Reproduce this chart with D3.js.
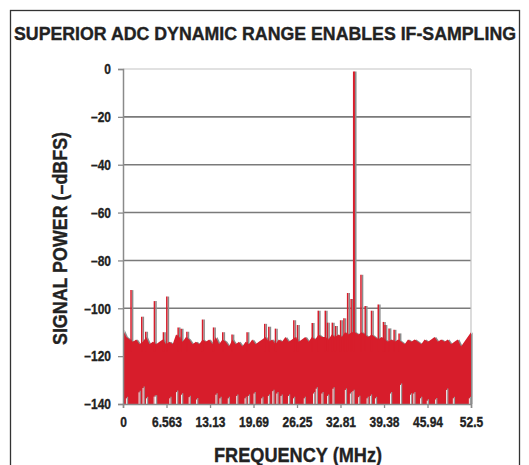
<!DOCTYPE html>
<html>
<head>
<meta charset="utf-8">
<script src="https://cdn.jsdelivr.net/npm/d3@7"></script>
<style>
  body { margin: 0; background: #fff; }
  svg text { font-family: 'Liberation Sans', Arial, sans-serif; font-weight: bold; fill: #222; stroke: #222; stroke-width: 0.35px; }
</style>
</head>
<body>
<script>
// tick labels as printed on the plot
const yTicks = [0, -20, -40, -60, -80, -100, -120, -140];
const xTicks = [0, 6.563, 13.13, 19.69, 26.25, 32.81, 39.38, 45.94, 52.5];
const xTickLabels = ['0', '6.563', '13.13', '19.69', '26.25', '32.81', '39.38', '45.94', '52.5'];

// noise floor top, one value every 0.5 MHz from 0 to 52.5 MHz (dBFS)
const noiseStep = 0.5;
const noiseTop = [
  -109, -112, -113, -114, -113, -115, -114, -112, -115, -114,
  -115, -114, -113, -115, -114, -115, -111, -112, -114, -112,
  -113, -115, -114, -115, -113, -114, -113, -115, -112, -115,
  -113, -114, -116, -113, -115, -114, -116, -114, -115, -113,
  -115, -114, -113, -112, -114, -113, -115, -113, -114, -112,
  -114, -113, -112, -114, -113, -112, -114, -112, -113, -111,
  -112, -112, -113, -111, -112, -111, -112, -110, -111, -110,
  -110, -111, -110, -111, -112, -111, -112, -113, -112, -113,
  -114, -113, -114, -113, -114, -115, -113, -114, -113, -114,
  -115, -113, -114, -113, -112, -114, -113, -114, -113, -115,
  -114, -113, -116, -114, -112, -110
];

// spurs and fundamental: [MHz, dBFS]
const spurs = [
  [1.21, -92.4], [2.83, -103.5], [3.43, -109.8], [4.74, -97], [6.10, -110],
  [6.61, -95.1], [8.32, -108], [8.78, -108.5], [9.64, -109.8], [12.0, -104.7],
  [13.66, -108], [15.05, -110], [16.45, -111], [18.72, -110], [21.38, -106.5],
  [22.0, -107.7], [23.0, -108.5], [25.77, -105], [26.33, -107], [28.55, -106.2],
  [29.46, -101], [30.52, -101], [30.86, -106], [31.58, -106], [32.08, -107.4],
  [32.83, -105], [33.33, -104.2], [33.89, -93.6], [34.42, -96.1], [34.84, -1.0],
  [35.90, -86], [36.54, -99], [37.49, -101], [38.51, -98.4], [39.29, -105.7],
  [39.53, -107], [40.14, -108.4], [40.90, -109], [41.65, -110.5]
];

// deep dips of the trace near the bottom: [MHz, dBFS]
const dips = [
  [0.56, -137], [2.47, -134.5], [3.07, -132.7], [3.59, -137], [4.75, -136.3],
  [4.95, -136.3], [7.11, -137], [8.13, -134.4], [8.88, -135.5], [10.03, -136.5],
  [11.15, -137.5], [14.07, -135.5], [14.68, -137], [15.93, -137], [17.2, -136],
  [18.46, -137], [18.96, -136], [19.82, -135], [20.99, -137], [21.98, -136],
  [22.65, -134], [23.26, -135], [23.9, -136], [25.01, -136], [25.77, -137],
  [27.39, -137], [28.79, -135], [29.2, -133], [30.06, -135], [30.91, -136],
  [31.73, -133], [33.59, -133.5], [34.35, -135], [34.75, -134], [35.6, -136.5],
  [36.87, -137], [37.37, -136], [38.13, -137], [40.4, -135], [41.91, -131.4],
  [43.42, -135.5], [43.92, -135], [44.94, -137], [45.95, -138], [47.21, -137.5],
  [48.87, -133.5], [49.88, -137], [52.3, -137]
];

const width = 529, height = 465;
const margin = { top: 69, left: 123, right: 58, bottom: 61 };
const red = '#d71d2b';

const svg = d3.select('body').append('svg')
  .attr('width', width)
  .attr('height', height);

// squeeze text horizontally to mimic the condensed typeface
function narrow(sel, k) {
  sel.each(function () {
    const w = this.getComputedTextLength();
    d3.select(this)
      .attr('textLength', w * k)
      .attr('lengthAdjust', 'spacingAndGlyphs');
  });
}

// outer frame
svg.append('rect')
  .attr('x', 10.5).attr('y', 10.5)
  .attr('width', 509).attr('height', 480)
  .attr('fill', 'none')
  .attr('stroke', '#333')
  .attr('stroke-width', 1.3);

svg.append('text')
  .attr('x', 14).attr('y', 40)
  .attr('font-size', 18)
  .attr('textLength', 502)
  .attr('lengthAdjust', 'spacingAndGlyphs')
  .text('SUPERIOR ADC DYNAMIC RANGE ENABLES IF-SAMPLING');

const x = d3.scaleLinear().domain([0, 52.5]).range([margin.left, width - margin.right]);
const y = d3.scaleLinear().domain([0, -140]).range([margin.top, height - margin.bottom]);

// grid
svg.append('g')
  .selectAll('line')
  .data(yTicks.filter(d => d !== -140))
  .join('line')
  .attr('x1', x(0)).attr('x2', x(52.5))
  .attr('y1', d => y(d)).attr('y2', d => y(d))
  .attr('stroke', d => d === 0 ? '#c4c4c4' : '#7a7a7a')
  .attr('stroke-width', d => d === 0 ? 1.2 : 1.6);

svg.append('line')
  .attr('x1', x(52.5)).attr('x2', x(52.5))
  .attr('y1', y(0)).attr('y2', y(-140))
  .attr('stroke', '#c4c4c4')
  .attr('stroke-width', 1.2);

// data layers: grey copy shifted right makes the drop shadow
const noise = noiseTop.map((v, i) => [i * noiseStep, v]);
const area = d3.area()
  .x(d => x(d[0]))
  .y0(y(-140))
  .y1(d => y(d[1]));

function drawTrace(g, color) {
  g.append('path')
    .datum(noise)
    .attr('d', area)
    .attr('fill', color);
  g.selectAll('line.spur')
    .data(spurs)
    .join('line')
    .attr('class', 'spur')
    .attr('x1', d => x(d[0])).attr('x2', d => x(d[0]))
    .attr('y1', y(-118)).attr('y2', d => y(d[1]))
    .attr('stroke', color)
    .attr('stroke-width', d => d[1] > -50 ? 2 : 1.5);
}

drawTrace(svg.append('g').attr('transform', 'translate(1.6,0)'), '#8c8c8c');
drawTrace(svg.append('g'), red);

const dipG = svg.append('g');
dipG.selectAll('line.dipShade')
  .data(dips)
  .join('line')
  .attr('class', 'dipShade')
  .attr('x1', d => x(d[0]) + 0.8).attr('x2', d => x(d[0]) + 0.8)
  .attr('y1', y(-140)).attr('y2', d => y(d[1]))
  .attr('stroke', '#9a9a9a')
  .attr('stroke-width', 1.2);
dipG.selectAll('line.dip')
  .data(dips)
  .join('line')
  .attr('class', 'dip')
  .attr('x1', d => x(d[0]) - 0.3).attr('x2', d => x(d[0]) - 0.3)
  .attr('y1', y(-140)).attr('y2', d => y(d[1]) + 1.5)
  .attr('stroke', '#f2f2f2')
  .attr('stroke-width', 1);

// axes
const yAxis = svg.append('g')
  .attr('transform', `translate(${x(0)},0)`)
  .call(d3.axisLeft(y).tickValues(yTicks).tickSize(5).tickPadding(7)
    .tickFormat(d => d === 0 ? '0' : '\u2013' + Math.abs(d)));
const xAxis = svg.append('g')
  .attr('transform', `translate(0,${y(-140)})`)
  .call(d3.axisBottom(x).tickValues(xTicks).tickSize(4).tickPadding(8)
    .tickFormat((d, i) => xTickLabels[i]));

[yAxis, xAxis].forEach(a => {
  a.attr('font-family', null).attr('font-size', null);
  a.select('.domain').attr('stroke', '#8a8a8a').attr('stroke-width', 1.5);
  a.selectAll('.tick line').attr('stroke', '#8a8a8a').attr('stroke-width', 1.3);
  a.selectAll('.tick text')
    .attr('font-size', 15)
    .attr('fill', '#222')
    .call(narrow, 0.8);
});

svg.append('text')
  .attr('transform', `translate(67,${(y(0) + y(-140)) / 2 + 2}) rotate(-90)`)
  .attr('text-anchor', 'middle')
  .attr('font-size', 20)
  .attr('textLength', 213)
  .attr('lengthAdjust', 'spacingAndGlyphs')
  .text('SIGNAL POWER (\u2013dBFS)');

svg.append('text')
  .attr('x', (x(0) + x(52.5)) / 2 + 1)
  .attr('y', 462)
  .attr('text-anchor', 'middle')
  .attr('font-size', 20)
  .attr('textLength', 168)
  .attr('lengthAdjust', 'spacingAndGlyphs')
  .text('FREQUENCY (MHz)');
</script>
</body>
</html>
